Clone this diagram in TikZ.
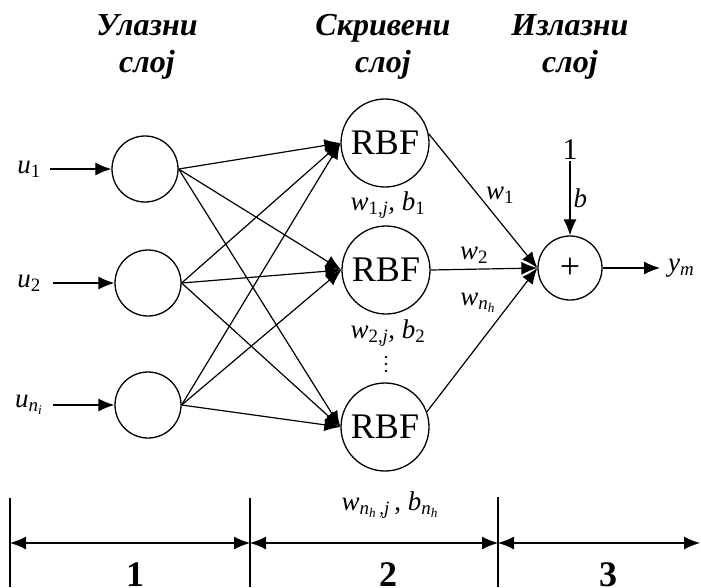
\documentclass[tikz,border=0pt]{standalone}
\usepackage{fontspec}
\setmainfont{Liberation Serif}
\usetikzlibrary{arrows.meta}
\newcommand{\ivar}[1]{\textit{#1}}
\tikzset{
  neuron/.style={draw=black, circle, line width=1.3pt, minimum size=66pt, inner sep=0pt},
  rbf/.style={neuron, minimum size=88pt, font=\fontsize{36}{36}\selectfont},
  sumnode/.style={neuron, minimum size=64pt, font=\fontsize{36}{36}\selectfont},
  conn/.style={draw=black, line width=1.2pt, -{Latex[length=16pt,width=13pt]}},
  dimline/.style={draw=black, line width=1.2pt, {Latex[length=16pt,width=13pt]}-{Latex[length=16pt,width=13pt]}},
  tick/.style={draw=black, line width=2pt},
  layertitle/.style={align=center, font=\fontsize{32}{37}\selectfont\bfseries\itshape},
  lbl/.style={font=\fontsize{27}{27}\selectfont, inner sep=1pt},
  digit/.style={font=\fontsize{36}{36}\selectfont\bfseries, inner sep=0pt},
}
\begin{document}
\begin{tikzpicture}[x=1pt,y=-1pt]
  \useasboundingbox (0,0) rectangle (701,587);
  %%% Layer titles
  \node[layertitle] (tin)  at (147,47) {Улазни\\слој};
  \node[layertitle] (thid) at (383,47) {Скривени\\слој};
  \node[layertitle] (tout) at (570,47) {Излазни\\слој};
  %%% Input layer
  \node[neuron] (in1) at (145,169) {};
  \node[neuron] (in2) at (148,283) {};
  \node[neuron] (in3) at (148,405) {};
  \node[lbl, anchor=east, inner xsep=9pt] (u1) at (50,169) {\ivar{u}\textsubscript{1}};
  \node[lbl, anchor=east, inner xsep=12pt] (u2) at (53,283) {\ivar{u}\textsubscript{2}};
  \node[lbl, anchor=east, inner xsep=10pt] (u3) at (53,405) {\ivar{u}\textsubscript{\ivar{n}\textsubscript{\ivar{i}}}};
  \draw[conn] (u1.east) -- (in1.west);
  \draw[conn] (u2.east) -- (in2.west);
  \draw[conn] (u3.east) -- (in3.west);
  %%% Hidden layer
  \node[rbf] (h1) at (385,143) {RBF};
  \node[rbf] (h2) at (386,270) {RBF};
  \node[rbf] (h3) at (385,427) {RBF};
  \foreach \i in {1,2,3}
    \foreach \j in {1,2,3}
      \draw[conn] (in\i.east) -- (h\j.west);
  \node[lbl] (p1) at (388,205) {\ivar{w}\textsubscript{1,\ivar{j}}, \ivar{b}\textsubscript{1}};
  \node[lbl] (p2) at (388,333) {\ivar{w}\textsubscript{2,\ivar{j}}, \ivar{b}\textsubscript{2}};
  \coordinate (vd) at (386,364);
  \foreach \k in {-7,0,7}
    \fill[black] ([yshift=\k pt]vd) circle (1.4pt);
  \node[lbl] (p3) at (390,505) {\ivar{w}\textsubscript{\ivar{n}\textsubscript{\ivar{h}}\,,\ivar{j}}\,, \ivar{b}\textsubscript{\ivar{n}\textsubscript{\ivar{h}}}};
  %%% Output layer
  \node[sumnode] (sum) at (570,268) {+};
  \draw[conn] (h1.12) -- (sum.west);
  \draw[conn] (h2.east) -- (sum.west);
  \draw[conn] (h3.20) -- (sum.west);
  \node[lbl] (w1) at (500,195) {\ivar{w}\textsubscript{1}};
  \node[lbl] (w2) at (474,255) {\ivar{w}\textsubscript{2}};
  \node[lbl] (w3) at (478,303) {\ivar{w}\textsubscript{\ivar{n}\textsubscript{\ivar{h}}}};
  \node[lbl, font=\fontsize{30}{30}\selectfont] (one) at (570,150) {1};
  \draw[conn] (one) -- node[lbl, right, inner xsep=3pt] (bias) {\ivar{b}} (sum);
  \coordinate (out) at (660,268);
  \draw[conn] (sum) -- (out);
  \node[lbl, anchor=west, inner xsep=8pt] (ym) at (out) {\ivar{y}\textsubscript{\ivar{m}}};
  %%% Dimension lines below
  \coordinate (t0) at (10,498);  \coordinate (b0) at (10,587);
  \coordinate (t1) at (250,498); \coordinate (b1) at (250,587);
  \coordinate (t2) at (498,497); \coordinate (b2) at (498,587);
  \draw[tick] (t0) -- (b0);
  \draw[tick] (t1) -- (b1);
  \draw[tick] (t2) -- (b2);
  \coordinate (d0) at (10,543);
  \coordinate (d1) at (250,543);
  \coordinate (d2) at (498,543);
  \coordinate (d3) at (700,543);
  \draw[dimline] (d0) -- (d1);
  \draw[dimline] (d1) -- (d2);
  \draw[dimline] (d2) -- (d3);
  \node[digit, anchor=base] (s1) at (135,586) {1};
  \node[digit, anchor=base] (s2) at (388,586) {2};
  \node[digit, anchor=base] (s3) at (608,586) {3};
\end{tikzpicture}
\end{document}
